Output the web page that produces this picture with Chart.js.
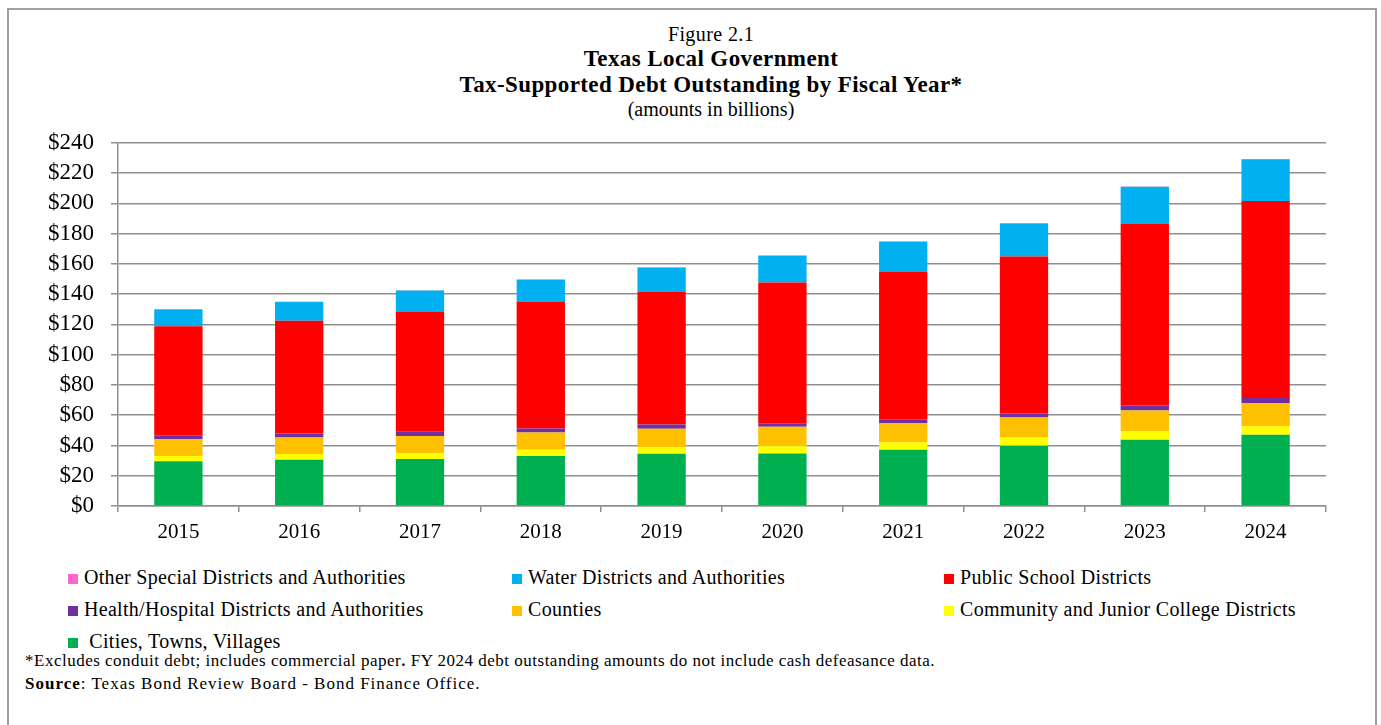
<!DOCTYPE html>
<html>
<head>
<meta charset="utf-8">
<script src="https://cdn.jsdelivr.net/npm/chart.js@4.4.1/dist/chart.umd.min.js"></script>
<style>
  body { margin: 0; background: #fff; font-family: "Liberation Serif", "DejaVu Serif", serif; color: #000; }
  .frame { position: absolute; left: 7px; top: 8px; width: 1370px; height: 760px; border: 2px solid #a0a0a0; box-sizing: border-box; }
  .titles { position: absolute; left: 0; top: 22px; width: 1422px; text-align: center; }
  .fig { font-size: 20px; letter-spacing: 0.4px; line-height: 24px; }
  .main { font-size: 23px; font-weight: bold; letter-spacing: 0.4px; line-height: 26px; }
  .sub { font-size: 20px; line-height: 22px; }
  .chart-box { position: absolute; left: 0; top: 112px; width: 1381px; height: 443px; }
  .legend-item { position: absolute; font-size: 20px; letter-spacing: 0.3px; line-height: 22px; white-space: nowrap; }
  .legend-item span { display: inline-block; width: 10px; height: 10px; margin-right: 6px; }
  .note { position: absolute; left: 25px; font-size: 17px; letter-spacing: 0.5px; white-space: nowrap; }
</style>
</head>
<body>
<div class="frame"></div>
<div class="titles">
  <div class="fig">Figure 2.1</div>
  <div class="main">Texas Local Government</div>
  <div class="main">Tax-Supported Debt Outstanding by Fiscal Year*</div>
  <div class="sub">(amounts in billions)</div>
</div>
<div class="chart-box"><canvas id="debtChart"></canvas></div>
<div id="legend"></div>
<div class="note" style="top:651px">*Excludes conduit debt; includes commercial paper<b>.</b> FY 2024 debt outstanding amounts do not include cash defeasance data.</div>
<div class="note" style="top:674px; letter-spacing: 1px"><b>Source</b>: Texas Bond Review Board - Bond Finance Office.</div>
<script>
const years = ['2015', '2016', '2017', '2018', '2019', '2020', '2021', '2022', '2023', '2024'];

// billions of dollars, stacked from the bottom up
const cities = [29.5, 30.5, 31.0, 33.0, 34.5, 34.7, 37.1, 39.8, 43.7, 47.0];
const collegeDistricts = [3.5, 3.8, 3.9, 4.1, 4.4, 4.7, 5.1, 5.5, 5.7, 5.7];
const counties = [11.2, 11.0, 11.4, 11.5, 12.1, 12.9, 12.7, 13.2, 13.7, 15.4];
const healthDistricts = [2.6, 2.6, 2.7, 2.6, 2.9, 2.4, 2.5, 2.6, 3.3, 3.3];
const schoolDistricts = [71.9, 74.5, 79.5, 83.9, 87.8, 93.0, 97.5, 103.7, 120.2, 130.1];
const waterDistricts = [11.2, 12.5, 13.9, 14.5, 15.9, 17.8, 19.8, 21.8, 24.4, 27.7];
const otherDistricts = [0.3, 0.1, 0.1, 0.1, 0.1, 0.1, 0.1, 0.4, 0.1, 0.1];

const yTicks = [0, 20, 40, 60, 80, 100, 120, 140, 160, 180, 200, 220, 240];

const series = [
  { label: 'Cities, Towns, Villages', data: cities, color: '#00b050' },
  { label: 'Community and Junior College Districts', data: collegeDistricts, color: '#ffff00' },
  { label: 'Counties', data: counties, color: '#ffc000' },
  { label: 'Health/Hospital Districts and Authorities', data: healthDistricts, color: '#7030a0' },
  { label: 'Public School Districts', data: schoolDistricts, color: '#ff0000' },
  { label: 'Water Districts and Authorities', data: waterDistricts, color: '#00b0f0' },
  { label: 'Other Special Districts and Authorities', data: otherDistricts, color: '#ff66cc' },
];

// legend reads left to right, top series first
const legendRows = [
  ['Other Special Districts and Authorities', 'Water Districts and Authorities', 'Public School Districts'],
  ['Health/Hospital Districts and Authorities', 'Counties', 'Community and Junior College Districts'],
  ['Cities, Towns, Villages'],
];
const legendCols = [68, 512, 944];
const legendTops = [566, 598, 630];

const makeLegend = () => {
  const box = document.getElementById('legend');
  legendRows.forEach((row, r) => {
    row.forEach((name, c) => {
      const s = series.find((item) => item.label === name);
      const item = document.createElement('div');
      item.className = 'legend-item';
      item.style.left = `${legendCols[c]}px`;
      item.style.top = `${legendTops[r]}px`;
      const gap = name === 'Cities, Towns, Villages' ? '&nbsp;' : '';
      item.innerHTML = `<span style="background:${s.color}"></span>${gap}${name}`;
      box.appendChild(item);
    });
  });
};

const gridColor = '#8f8f8f';

const config = {
  type: 'bar',
  data: {
    labels: years,
    datasets: series.map((s) => ({
      label: s.label,
      data: s.data,
      backgroundColor: s.color,
      borderWidth: 0,
      barPercentage: 0.4,
      categoryPercentage: 1,
    })),
  },
  options: {
    responsive: true,
    maintainAspectRatio: false,
    animation: false,
    layout: { padding: { top: 4, right: 55, left: 0, bottom: 0 } },
    plugins: { legend: { display: false }, tooltip: { enabled: false } },
    scales: {
      x: {
        stacked: true,
        offset: true,
        grid: { offset: true, drawOnChartArea: false, drawTicks: true, tickLength: 6, color: gridColor, lineWidth: 1.5 },
        border: { color: gridColor, width: 1.5 },
        ticks: { color: '#000', padding: 8, font: { family: 'Liberation Serif', size: 21 } },
        afterFit: (scale) => { scale.height = 49; },
      },
      y: {
        stacked: true,
        min: 0,
        max: 240,
        afterBuildTicks: (scale) => { scale.ticks = yTicks.map((v) => ({ value: v })); },
        grid: { color: gridColor, lineWidth: 1.5, tickLength: 7 },
        border: { color: gridColor, width: 1.5 },
        ticks: {
          color: '#000',
          padding: 17,
          autoSkip: false,
          font: { family: 'Liberation Serif', size: 23 },
          callback: (value) => `$${value}`,
        },
        afterFit: (scale) => { scale.width = 118; },
      },
    },
  },
};

makeLegend();
new Chart(document.getElementById('debtChart'), config);
</script>
</body>
</html>
